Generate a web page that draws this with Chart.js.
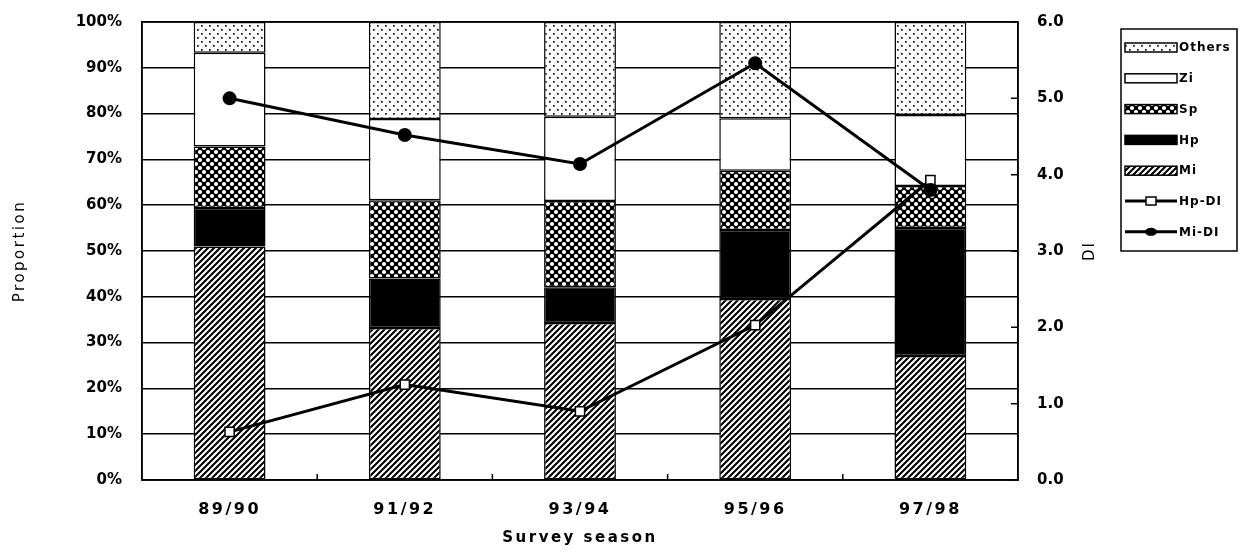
<!DOCTYPE html>
<html>
<head>
<meta charset="utf-8">
<script src="https://cdn.jsdelivr.net/npm/chart.js@4.4.1/dist/chart.umd.min.js"></script>
<style>
  html, body { margin: 0; padding: 0; background: #fff; }
  canvas { display: block; }
</style>
</head>
<body>
<canvas id="chartSurvey" width="1244" height="552"></canvas>
<script>
/* --------------------------------------------
   Datos
-------------------------------------------- */
const seasons = ["89/90", "91/92", "93/94", "95/96", "97/98"];

// proporciones en %, de abajo hacia arriba
const miShare     = [51.0, 33.2, 34.3, 39.5, 27.1];
const hpShare     = [8.4, 10.8, 7.8, 15.1, 27.9];
const spShare     = [13.4, 17.1, 18.8, 12.9, 9.2];
const ziShare     = [20.5, 17.7, 18.4, 11.5, 15.5];
const othersShare = [6.7, 21.2, 20.7, 21.0, 20.3];

// índice DI (eje derecho)
const hpDI = [0.63, 1.25, 0.90, 2.03, 3.93];
const miDI = [5.00, 4.52, 4.14, 5.46, 3.80];

const pctTicks = [0, 10, 20, 30, 40, 50, 60, 70, 80, 90, 100];

const FONT = "'DejaVu Sans', 'Liberation Sans', Arial, sans-serif";

/* --------------------------------------------
   Tramas (patterns)
-------------------------------------------- */
function makePattern(kind) {
    const t = document.createElement("canvas");
    const g = t.getContext("2d");
    if (kind === "hatch") {
        t.width = 6; t.height = 6;
        g.fillStyle = "#fff";
        g.fillRect(0, 0, 6, 6);
        g.strokeStyle = "#000";
        g.lineWidth = 2.1;
        g.beginPath();
        g.moveTo(-1, 7); g.lineTo(7, -1);
        g.moveTo(-1, 1); g.lineTo(1, -1);
        g.moveTo(5, 7); g.lineTo(7, 5);
        g.stroke();
    } else if (kind === "cross") {
        t.width = 8; t.height = 8;
        g.fillStyle = "#000";
        g.fillRect(0, 0, 8, 8);
        g.fillStyle = "#fff";
        [[0, 0], [8, 0], [0, 8], [8, 8], [4, 4]].forEach(([x, y]) => {
            g.beginPath();
            g.arc(x, y, 2.1, 0, Math.PI * 2);
            g.fill();
        });
    } else if (kind === "dots") {
        t.width = 8; t.height = 8;
        g.fillStyle = "#fff";
        g.fillRect(0, 0, 8, 8);
        g.fillStyle = "#111";
        g.fillRect(1, 1, 1.7, 1.7);
        g.fillRect(5, 5, 1.7, 1.7);
    }
    return g.createPattern(t, "repeat");
}

const fills = {
    Mi: makePattern("hatch"),
    Hp: "#000",
    Sp: makePattern("cross"),
    Zi: "#fff",
    Others: makePattern("dots")
};

/* --------------------------------------------
   Plugin: marco, marcas interiores, título DI y leyenda
-------------------------------------------- */
const spaced = (scale, part, px) => {
    const ctx = scale.ctx;
    const orig = scale[part].bind(scale);
    scale[part] = (ca) => { ctx.save(); ctx.letterSpacing = px; orig(ca); ctx.restore(); };
};

const framePlugin = {
    id: "frame",
    beforeDraw(chart) {
        // espaciado de letras como en el original
        if (!chart._spaced) {
            spaced(chart.scales.x, "drawLabels", "2.5px");
            spaced(chart.scales.x, "drawTitle", "2.5px");
            spaced(chart.scales.y, "drawTitle", "2.5px");
            chart._spaced = true;
        }
    },
    afterDraw(chart) {
        const { ctx, chartArea: a, scales } = chart;
        ctx.save();
        ctx.strokeStyle = "#000";
        ctx.lineWidth = 1.5;
        ctx.strokeRect(a.left, a.top, a.right - a.left, a.bottom - a.top);

        // marcas interiores eje derecho
        ctx.beginPath();
        scales.y1.ticks.forEach(t => {
            const y = scales.y1.getPixelForValue(t.value);
            ctx.moveTo(a.right - 7, y);
            ctx.lineTo(a.right, y);
        });
        // marcas interiores eje X (entre categorías)
        for (let i = 0; i < seasons.length - 1; i++) {
            const x = (scales.x.getPixelForValue(i) + scales.x.getPixelForValue(i + 1)) / 2;
            ctx.moveTo(x, a.bottom);
            ctx.lineTo(x, a.bottom - 6);
        }
        ctx.stroke();

        // título DI (rotado como el de la izquierda)
        ctx.fillStyle = "#000";
        ctx.font = "15px " + FONT;
        ctx.letterSpacing = "2px";
        ctx.textAlign = "center";
        ctx.textBaseline = "middle";
        ctx.translate(1090, (a.top + a.bottom) / 2);
        ctx.rotate(-Math.PI / 2);
        ctx.fillText("DI", 0, 0);
        ctx.restore();

        // leyenda
        ctx.save();
        const lx = 1121, ly = 29, lw = 116, lh = 222;
        ctx.strokeStyle = "#000";
        ctx.lineWidth = 1.5;
        ctx.fillStyle = "#fff";
        ctx.fillRect(lx, ly, lw, lh);
        ctx.strokeRect(lx, ly, lw, lh);

        const items = [
            { label: "Others", fill: fills.Others },
            { label: "Zi", fill: fills.Zi },
            { label: "Sp", fill: fills.Sp },
            { label: "Hp", fill: fills.Hp },
            { label: "Mi", fill: fills.Mi },
            { label: "Hp-DI", marker: "rect" },
            { label: "Mi-DI", marker: "circle" }
        ];
        ctx.font = "bold 12px " + FONT;
        ctx.textAlign = "left";
        ctx.textBaseline = "middle";
        items.forEach((it, i) => {
            const cy = 47 + i * 30.8;
            const sx = 1125, sw = 52;
            if (it.marker) {
                ctx.strokeStyle = "#000";
                ctx.lineWidth = 3;
                ctx.beginPath();
                ctx.moveTo(sx, cy);
                ctx.lineTo(sx + sw, cy);
                ctx.stroke();
                ctx.lineWidth = 1.5;
                if (it.marker === "rect") {
                    ctx.fillStyle = "#fff";
                    ctx.fillRect(sx + sw / 2 - 5, cy - 4, 10, 8);
                    ctx.strokeRect(sx + sw / 2 - 5, cy - 4, 10, 8);
                } else {
                    ctx.fillStyle = "#000";
                    ctx.beginPath();
                    ctx.ellipse(sx + sw / 2, cy, 6, 4, 0, 0, Math.PI * 2);
                    ctx.fill();
                }
            } else {
                ctx.fillStyle = it.fill;
                ctx.fillRect(sx, cy - 4, sw, 9);
                ctx.strokeStyle = "#000";
                ctx.lineWidth = 1.5;
                ctx.strokeRect(sx, cy - 4, sw, 9);
            }
            ctx.fillStyle = "#000";
            ctx.letterSpacing = "1px";
            ctx.fillText(it.label, sx + sw + 2, cy + 1);
            ctx.letterSpacing = "0px";
        });
        ctx.restore();
    }
};

/* --------------------------------------------
   Gráfico
-------------------------------------------- */
const barDs = (label, data) => ({
    type: "bar",
    label: label,
    data: data,
    backgroundColor: fills[label],
    borderColor: "#000",
    borderWidth: 1.5,
    borderSkipped: false,
    barPercentage: 0.41,
    categoryPercentage: 1,
    stack: "share",
    yAxisID: "y",
    order: 1
});

new Chart(document.getElementById("chartSurvey"), {
    data: {
        labels: seasons,
        datasets: [
            {
                type: "line",
                label: "Mi-DI",
                data: miDI,
                yAxisID: "y1",
                borderColor: "#000",
                borderWidth: 3,
                tension: 0,
                pointStyle: "circle",
                pointRadius: 5.5,
                pointBackgroundColor: "#000",
                pointBorderColor: "#000",
                order: 0
            },
            {
                type: "line",
                label: "Hp-DI",
                data: hpDI,
                yAxisID: "y1",
                borderColor: "#000",
                borderWidth: 3,
                tension: 0,
                pointStyle: "rect",
                pointRadius: 6.5,
                pointBackgroundColor: "#fff",
                pointBorderColor: "#000",
                pointBorderWidth: 1.5,
                order: 0
            },
            barDs("Mi", miShare),
            barDs("Hp", hpShare),
            barDs("Sp", spShare),
            barDs("Zi", ziShare),
            barDs("Others", othersShare)
        ]
    },
    options: {
        responsive: false,
        animation: false,
        devicePixelRatio: 1,
        layout: { padding: { top: 22, right: 139, left: 0, bottom: 0 } },
        plugins: {
            legend: { display: false },
            tooltip: { enabled: false }
        },
        scales: {
            x: {
                stacked: true,
                grid: { display: false },
                border: { display: true, color: "#000", width: 1.5 },
                ticks: { color: "#000", padding: 12, font: { family: FONT, size: 16, weight: "bold" } },
                title: {
                    display: true,
                    text: "Survey season",
                    color: "#000",
                    font: { family: FONT, size: 15, weight: "bold" },
                    padding: { top: 0, bottom: 5 }
                },
                afterFit: s => { s.height = 72; }
            },
            y: {
                stacked: true,
                min: 0,
                max: 100,
                afterBuildTicks: s => { s.ticks = pctTicks.map(v => ({ value: v })); },
                ticks: {
                    color: "#000",
                    padding: 20,
                    font: { family: FONT, size: 15, weight: "bold" },
                    callback: v => v + "%"
                },
                grid: { color: "#000", lineWidth: 1.5, drawTicks: false },
                border: { display: true, color: "#000", width: 1.5 },
                title: {
                    display: true,
                    text: "Proportion",
                    color: "#000",
                    font: { family: FONT, size: 15 },
                    padding: { top: 11 }
                },
                afterFit: s => { s.width = 142; s.paddingTop = 0; s.paddingBottom = 0; }
            },
            y1: {
                position: "right",
                min: 0,
                max: 6,
                ticks: {
                    stepSize: 1,
                    color: "#000",
                    padding: 19,
                    font: { family: FONT, size: 15, weight: "bold" },
                    callback: v => Number(v).toFixed(1)
                },
                grid: { drawOnChartArea: false, drawTicks: false },
                border: { display: true, color: "#000", width: 1.5 },
                afterFit: s => { s.width = 87; s.paddingTop = 0; s.paddingBottom = 0; }
            }
        }
    },
    plugins: [framePlugin]
});
</script>
</body>
</html>
